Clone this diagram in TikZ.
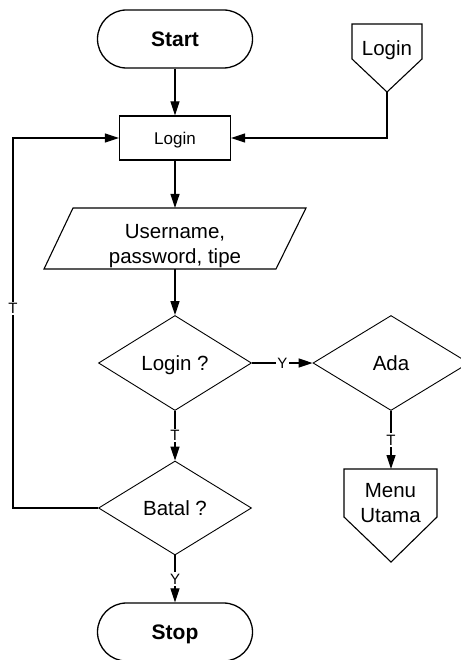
\documentclass[tikz,border=0pt]{standalone}
\usepackage{fontspec}
\setmainfont{Liberation Sans}
\usetikzlibrary{shapes.geometric,arrows.meta}
\tikzset{
  term/.style={draw, line width=1.3pt, rounded corners=29pt, minimum width=155pt, minimum height=58pt, text depth=0pt, font=\fontsize{21}{25}\selectfont\bfseries},
  proc/.style={draw, line width=1.2pt, minimum width=111pt, minimum height=44pt, text depth=0pt, font=\fontsize{17}{20}\selectfont},
  decision/.style={draw, line width=0.9pt, diamond, minimum width=153pt, minimum height=95pt, inner sep=0pt, text depth=0pt, font=\fontsize{20.5}{24.5}\selectfont},
  outline/.style={line width=1.1pt, line join=miter},
  txt/.style={font=\fontsize{20.5}{24.5}\selectfont, align=center},
  arr/.style={-{Triangle[length=14pt,width=9pt]}, line width=1.2pt},
  lbl/.style={fill=white, inner sep=1.5pt, font=\fontsize{15}{18}\selectfont}
}
\begin{document}
\begin{tikzpicture}[x=1pt, y=-1pt]
\useasboundingbox (0,0) rectangle (460,660);

\node[term] (start) at (175,39) {Start};
\node[proc] (login) at (175,138) {Login};
\node[decision] (loginq) at (175,363) {Login ?};
\node[decision, minimum width=156pt] (ada) at (391,363) {Ada};
\node[decision, minimum height=94pt] (batal) at (175,508) {Batal ?};
\node[term] (stop) at (175,632) {Stop};

\draw[outline] (73,208) -- (306,208) -- (276,269) -- (44,269) -- cycle;
\node[txt] (inp) at (175,246) {Username,\\password, tipe};
\coordinate (inptop) at (175,208);
\coordinate (inpbot) at (175,269);

\draw[outline] (352,24) -- (422,24) -- (422,59) -- (387,92) -- (352,59) -- cycle;
\node[txt, anchor=base] (lgoff) at (387,56) {Login};
\coordinate (lgtip) at (387,92);

\draw[outline] (344,469) -- (437,469) -- (437,517) -- (391,562) -- (344,517) -- cycle;
\node[txt] (menu) at (390.5,503) {Menu\\Utama};
\coordinate (mtop) at (391,469);

\coordinate (loopc) at (13,508);

\draw[arr] (start) -- (login);
\draw[arr] (lgtip) |- (login.east);
\draw[arr] (login) -- (inptop);
\draw[arr] (inpbot) -- (loginq);
\draw[arr] (loginq.east) -- node[lbl]{Y} (ada.west);
\draw[arr] (loginq.south) -- node[lbl]{T} (batal.north);
\draw[arr] (ada.south) -- node[lbl]{T} (mtop);
\draw[arr] (batal.south) -- node[lbl]{Y} (stop.north);
\draw[arr] (batal.west) -- (loopc) |- node[lbl, pos=0.27]{T} (login.west);

\end{tikzpicture}
\end{document}
